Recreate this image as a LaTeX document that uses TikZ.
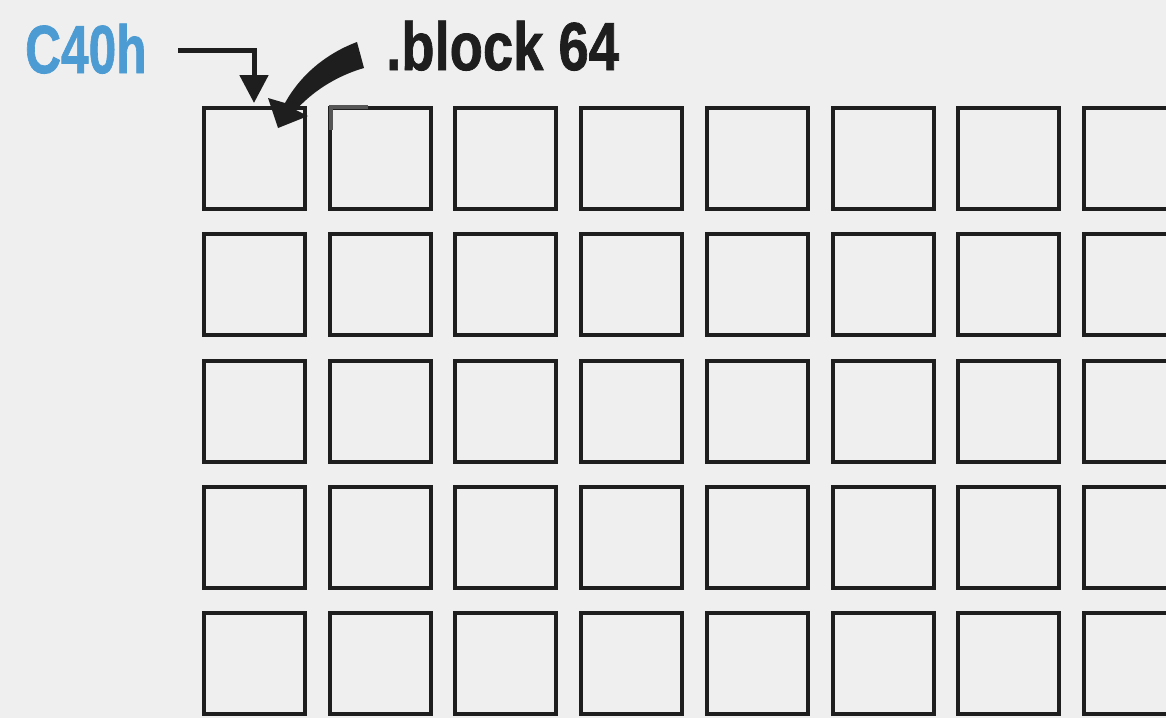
\documentclass[tikz,border=0pt]{standalone}
\usepackage{fontspec}
\setmainfont{Liberation Sans}
\newfontfamily\heavyfont[BoldFont={Liberation Sans Bold},BoldFeatures={FakeBold=1.2}]{Liberation Sans}
\usetikzlibrary{arrows.meta}
\definecolor{bg}{HTML}{EFEFEF}
\definecolor{ink}{HTML}{1E1E1E}
\definecolor{labelblue}{HTML}{4D9BD3}
\definecolor{markgray}{HTML}{555555}
\tikzset{
  cell/.style={draw=ink, line width=4pt, rectangle, minimum width=101pt, minimum height=101pt, inner sep=0pt, outer sep=0pt},
  lbl/.style={inner sep=0pt, anchor=base west, font=\fontsize{68}{70}\heavyfont\bfseries},
  pointer/.style={draw=ink, line width=5pt, -{Triangle[width=28pt,length=28pt]}}
}
\begin{document}
\begin{tikzpicture}[x=1pt,y=-1pt]
\useasboundingbox (0,0) rectangle (1166,718);
\fill[bg] (0,0) rectangle (1166,718);
\foreach \i in {0,...,7}{
  \foreach \j in {0,...,4}{
    \node[cell] (b\i\j) at ({254.5+125.7*\i},{158.5+126.25*\j}) {};
  }
}
\node[lbl, text=labelblue] (c40h) at (25,73) {\scalebox{0.73}[1]{C40h}};
\node[lbl, text=ink] (blk) at (386,70) {\scalebox{0.8}[1]{.block 64}};
\coordinate (c40start) at (178,50);
\coordinate (c40tip) at (254,103);
\draw[pointer] (c40start) -| (c40tip);
% curved tapered arrow from .block 64
\fill[ink] (357,42) .. controls (330,52) and (302,72) .. (285,103)
  -- (268,98) -- (278,128) -- (308,116) -- (296,110)
  .. controls (312,92) and (336,76) .. (364,68) -- cycle;
% grey corner mark on the second cell
\draw[markgray, line width=4pt] (368,107) -- (331,107) -- (331,130);
\end{tikzpicture}
\end{document}
